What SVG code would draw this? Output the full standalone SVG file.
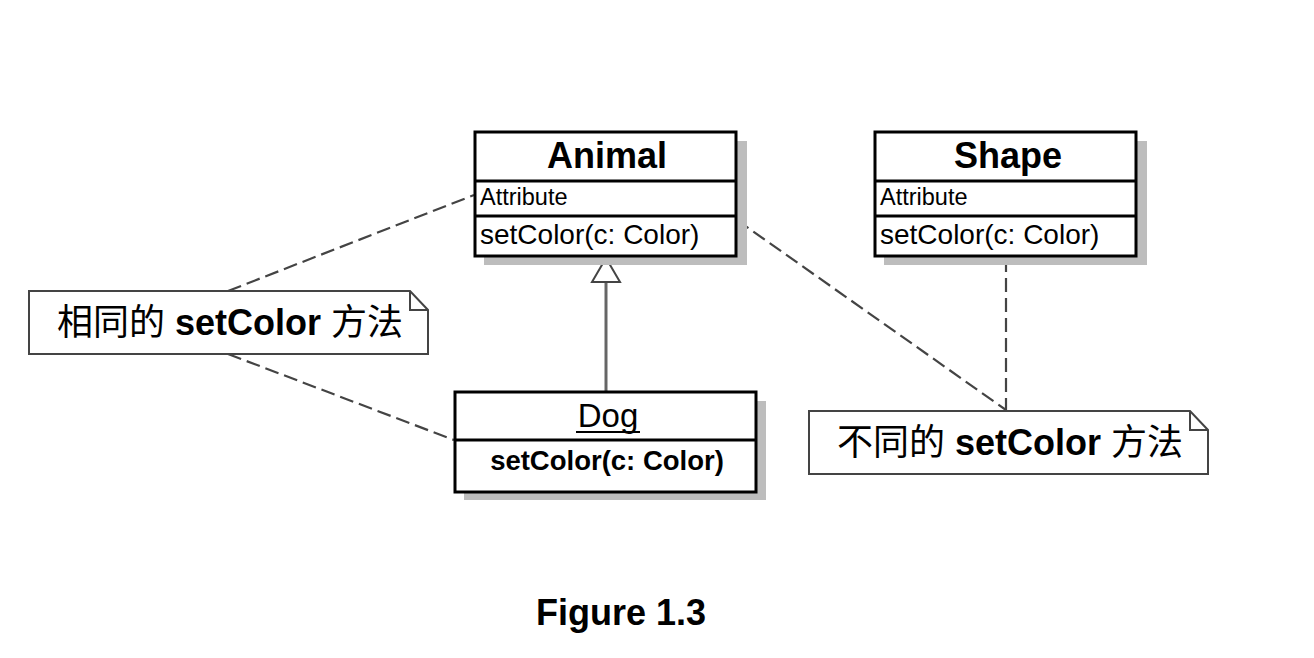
<svg xmlns="http://www.w3.org/2000/svg" width="1314" height="658" viewBox="0 0 1314 658">
<style>
.shadow{fill:#bdbdbd}
.box{fill:#fff;stroke:#000;stroke-width:3}
.div{stroke:#000;stroke-width:3}
.divs{stroke:#bdbdbd;stroke-width:2}
.note{fill:#fff;stroke:#444;stroke-width:2}
.dash{fill:none;stroke:#444;stroke-width:2.2;stroke-dasharray:14 6}
.t{font-family:"Liberation Sans","Noto Sans CJK SC",Arial,sans-serif;fill:#000}
.title{font-size:36px;font-weight:bold;text-anchor:middle}
.attr{font-size:23.5px}
.meth{font-size:28px}
.nt{font-size:36px}
</style>
<rect width="1314" height="658" fill="#fff"/>
<g id="connectors">
<path class="dash" d="M228,291 L474,195"/>
<path class="dash" d="M228,354 L454,440"/>
<path class="dash" d="M737,220 L1006,410"/>
<path class="dash" d="M1006,258 L1006,410"/>
<line x1="606" y1="282" x2="606" y2="392" stroke="#666" stroke-width="3"/>
<polygon points="606,258 592,282 620,282" fill="#fff" stroke="#444" stroke-width="2"/>
</g>
<g id="animal">
<rect class="shadow" x="484" y="141" width="263" height="124"/>
<line class="divs" x1="737" y1="181" x2="747" y2="181"/>
<line class="divs" x1="737" y1="216" x2="747" y2="216"/>
<rect class="box" x="475" y="132" width="261" height="124"/>
<line class="div" x1="475" y1="181" x2="736" y2="181"/>
<line class="div" x1="475" y1="216" x2="736" y2="216"/>
<text class="t title" x="607" y="168">Animal</text>
<text class="t attr" x="480" y="205">Attribute</text>
<text class="t meth" x="480" y="244">setColor(c: Color)</text>
</g>
<g id="shape">
<rect class="shadow" x="884" y="141" width="263" height="124"/>
<line class="divs" x1="1137" y1="181" x2="1147" y2="181"/>
<line class="divs" x1="1137" y1="216" x2="1147" y2="216"/>
<rect class="box" x="875" y="132" width="261" height="124"/>
<line class="div" x1="875" y1="181" x2="1136" y2="181"/>
<line class="div" x1="875" y1="216" x2="1136" y2="216"/>
<text class="t title" x="1008" y="168">Shape</text>
<text class="t attr" x="880" y="205">Attribute</text>
<text class="t meth" x="880" y="244">setColor(c: Color)</text>
</g>
<g id="dog">
<rect class="shadow" x="464" y="401" width="302" height="99"/>
<line class="divs" x1="757" y1="440" x2="766" y2="440"/>
<rect class="box" x="455" y="392" width="301" height="100"/>
<line class="div" x1="455" y1="440" x2="756" y2="440"/>
<text class="t" x="608" y="427" font-size="33" text-anchor="middle">Dog</text>
<line x1="576" y1="432" x2="640" y2="432" stroke="#000" stroke-width="2"/>
<text class="t" x="607" y="470" font-size="27.5" font-weight="bold" text-anchor="middle">setColor(c: Color)</text>
</g>
<g id="note-same">
<path class="note" d="M29,291 L410,291 L428,310 L428,354 L29,354 Z"/>
<path d="M410,291 L410,310 L428,310" fill="none" stroke="#444" stroke-width="2"/>
<text class="t nt" x="57" y="335">相同的 <tspan font-weight="bold">setColor</tspan> 方法</text>
</g>
<g id="note-diff">
<path class="note" d="M809,411 L1190,411 L1208,430 L1208,474 L809,474 Z"/>
<path d="M1190,411 L1190,430 L1208,430" fill="none" stroke="#444" stroke-width="2"/>
<text class="t nt" x="837" y="455">不同的 <tspan font-weight="bold">setColor</tspan> 方法</text>
</g>
<text class="t" x="621" y="625" font-size="36" font-weight="bold" text-anchor="middle">Figure 1.3</text>
</svg>
